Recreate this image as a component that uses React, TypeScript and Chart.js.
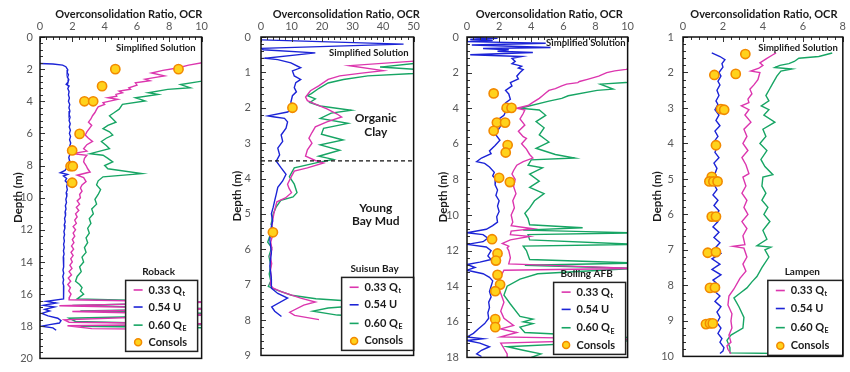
import React, { useEffect, useRef } from "react";
import { Chart, registerables } from "chart.js";

Chart.register(...registerables);

type Pt = [number, number]; // [OCR, depth (m)]

// ---------------- Roback ----------------
const robackQt: Pt[] = [
  [10.3, 1.55], [9.2, 1.75], [8.5, 1.93], [7.6, 2.08], [6.9, 2.24], [7.7, 2.42], [6.5, 2.62], [6.8, 2.72], [5.9, 2.85], [6.0, 3.0],
  [5.5, 3.16], [5.6, 3.25], [4.9, 3.37], [5.1, 3.47], [4.7, 3.57], [4.75, 3.68], [4.2, 3.78], [4.8, 3.88], [3.9, 4.08], [4.0, 4.2],
  [3.6, 4.35], [3.5, 4.5], [3.4, 4.7], [3.25, 4.9], [3.15, 5.1], [3.0, 5.3], [3.2, 5.5], [3.05, 5.7], [2.9, 5.9], [2.8, 6.1],
  [3.0, 6.3], [3.25, 6.5], [2.9, 6.7], [2.7, 6.95], [2.9, 7.1], [2.0, 7.26], [2.9, 7.36], [2.75, 7.55], [2.7, 7.77], [2.85, 8.0],
  [2.95, 8.2], [3.1, 8.4], [2.3, 8.6], [2.7, 8.75], [2.85, 9.0], [2.6, 9.2], [2.5, 9.4], [2.6, 9.6], [2.45, 9.8], [2.5, 10.0],
  [2.3, 10.2], [2.45, 10.4], [2.25, 10.6], [2.4, 10.8], [2.2, 11.0], [2.3, 11.2], [2.15, 11.4], [2.25, 11.6], [2.05, 11.8], [2.2, 12.0],
  [2.05, 12.2], [2.15, 12.4], [2.0, 12.6], [2.1, 12.8], [1.95, 13.0], [2.08, 13.2], [1.92, 13.4], [2.05, 13.6], [1.9, 13.8], [2.0, 14.0],
  [1.85, 14.2], [1.98, 14.4], [1.8, 14.6], [1.95, 14.8], [1.75, 15.0], [1.9, 15.2], [1.72, 15.4], [1.88, 15.6], [1.78, 15.8], [1.92, 16.0],
  [1.82, 16.2], [1.8, 16.35], [10.5, 16.5], [1.2, 16.72], [10.5, 16.92], [2.0, 17.08], [10.5, 17.28], [1.5, 17.6], [1.8, 17.75], [10.5, 17.85],
  [1.7, 17.97], [3.2, 18.15], [9.0, 18.2],
];
const robackU: Pt[] = [
  [0, 1.65], [0.8, 1.68], [1.4, 1.75], [1.6, 1.85], [1.72, 2.05], [1.68, 2.2], [1.76, 2.35], [1.7, 2.5], [1.78, 2.65], [1.74, 2.8],
  [1.62, 2.95], [1.8, 3.05], [1.72, 3.2], [1.8, 3.4], [1.76, 3.6], [1.82, 3.8], [1.76, 4.0], [1.84, 4.2], [1.79, 4.4], [1.85, 4.6],
  [1.8, 4.8], [1.86, 5.0], [1.8, 5.2], [1.87, 5.4], [1.81, 5.6], [1.88, 5.8], [1.82, 6.0], [1.89, 6.2], [1.83, 6.4], [1.9, 6.6],
  [1.84, 6.8], [1.88, 7.0], [1.76, 7.15], [1.85, 7.3], [1.78, 7.5], [1.83, 7.7], [1.75, 7.9], [1.68, 8.1], [1.55, 8.3], [1.25, 8.45],
  [1.7, 8.55], [1.45, 8.65], [1.65, 8.8], [1.56, 8.95], [1.7, 9.1], [1.65, 9.3], [1.69, 9.5], [1.62, 9.7], [1.66, 9.9], [1.6, 10.1],
  [1.64, 10.3], [1.57, 10.5], [1.61, 10.7], [1.55, 10.9], [1.58, 11.1], [1.52, 11.3], [1.56, 11.5], [1.5, 11.7], [1.54, 11.9], [1.48, 12.1],
  [1.52, 12.3], [1.47, 12.5], [1.51, 12.7], [1.46, 12.9], [1.5, 13.1], [1.45, 13.3], [1.49, 13.5], [1.44, 13.7], [1.48, 13.9], [1.43, 14.1],
  [1.48, 14.3], [1.42, 14.5], [1.47, 14.7], [1.41, 14.9], [1.46, 15.1], [1.42, 15.3], [1.47, 15.5], [1.43, 15.7], [1.48, 15.9], [1.44, 16.1],
  [1.48, 16.3], [0.4, 16.45], [1.0, 16.55], [0.2, 16.7], [0.9, 16.8], [0.3, 16.95], [0.6, 17.05], [0.1, 17.2], [0.5, 17.35], [1.1, 17.5],
  [1.3, 17.65], [1.2, 17.8], [0.6, 17.9], [0.1, 18.0], [0.8, 18.1], [1.0, 18.25],
];
const robackQe: Pt[] = [
  [10.3, 2.7], [8.7, 2.96], [9.3, 3.16], [7.9, 3.26], [6.7, 3.47], [7.3, 3.57], [5.9, 3.78], [6.5, 3.98], [5.1, 4.19], [4.9, 4.49],
  [4.6, 4.7], [4.3, 4.9], [4.5, 5.1], [4.7, 5.3], [4.2, 5.5], [3.9, 5.7], [4.3, 5.9], [4.5, 6.1], [4.1, 6.3], [3.8, 6.5],
  [4.1, 6.75], [4.3, 6.95], [3.1, 7.26], [3.9, 7.36], [4.2, 7.55], [4.5, 7.77], [4.0, 8.0], [4.2, 8.2], [6.3, 8.5], [3.9, 8.7],
  [3.6, 8.95], [3.5, 9.2], [3.75, 9.5], [3.6, 9.8], [3.4, 10.1], [3.5, 10.4], [3.2, 10.7], [3.3, 11.0], [3.05, 11.3], [3.15, 11.6],
  [2.95, 11.9], [3.05, 12.2], [2.85, 12.5], [2.95, 12.8], [2.75, 13.1], [2.85, 13.4], [2.6, 13.7], [2.7, 14.0], [2.45, 14.3], [2.55, 14.6],
  [2.3, 14.9], [2.2, 15.2], [2.45, 15.4], [2.6, 15.6], [2.5, 15.8], [2.7, 16.0], [2.3, 16.3], [10.5, 16.5], [2.0, 16.7], [10.5, 16.9],
  [2.5, 17.05], [10.5, 17.2], [10.5, 17.3], [1.8, 17.5], [2.2, 17.7], [10.5, 17.9], [2.5, 18.0], [10.5, 18.1],
];
const robackConsols: Pt[] = [
  [4.66, 2.0], [8.57, 2.0], [3.84, 3.06], [2.75, 4.0], [3.29, 4.0], [2.45, 6.03], [1.99, 7.06], [1.89, 8.04], [2.03, 8.04], [1.99, 9.07],
];

// ---------------- Suisun Bay ----------------
const suisunQt: Pt[] = [
  [52, 0.67], [29, 0.81], [40, 0.95], [33, 1.02], [25.8, 1.1], [22, 1.2], [18.9, 1.38], [16.2, 1.52], [14.6, 1.7], [15.2, 1.8],
  [17.8, 1.9], [21.6, 2.03], [24.8, 2.17], [26.4, 2.26], [21.6, 2.4], [17.8, 2.54], [16.7, 2.7], [15.7, 2.86], [16.7, 3.0], [15.2, 3.19],
  [14.6, 3.37], [17.8, 3.49], [20.5, 3.56], [15.2, 3.7], [10.9, 3.79], [9.8, 3.97], [8.7, 4.16], [9.2, 4.28], [10.0, 4.4], [8.0, 4.55],
  [5.2, 4.66], [4.6, 4.85], [4.2, 5.0], [3.8, 5.2], [3.5, 5.4], [3.8, 5.6], [3.2, 5.8], [3.6, 6.0], [3.0, 6.2], [3.5, 6.4],
  [3.1, 6.6], [3.4, 6.8], [3.0, 7.0], [4.0, 7.1], [6.6, 7.2], [13, 7.38], [17.8, 7.49], [14, 7.58], [9.4, 7.78], [11, 7.87],
  [19, 7.99],
];
const suisunU: Pt[] = [
  [0.3, 0.08], [46.7, 0.2], [0.2, 0.32], [0.7, 0.36], [17.8, 0.45], [1.3, 0.6], [5.5, 0.64], [9.8, 0.73], [13, 0.87], [10.3, 0.96],
  [10.9, 1.1], [13, 1.2], [11.4, 1.29], [10.9, 1.43], [11.6, 1.55], [10.3, 1.66], [9.8, 1.84], [10.3, 2.03], [8.7, 2.12], [2.3, 2.23],
  [4.5, 2.26], [7.7, 2.3], [8.7, 2.4], [8.2, 2.58], [6.6, 2.77], [7.1, 2.95], [5.5, 3.14], [6.1, 3.33], [5.0, 3.51], [6.6, 3.7],
  [8.2, 3.88], [7.1, 4.07], [5.5, 4.25], [5.0, 4.44], [4.5, 4.62], [4.0, 4.81], [3.4, 5.0], [3.8, 5.2], [3.4, 5.36], [2.9, 5.73],
  [3.4, 6.1], [2.9, 6.47], [3.4, 6.84], [3.4, 7.1], [5.5, 7.25], [8.7, 7.38], [3.5, 7.63], [4.5, 7.75], [6.7, 7.9],
];
const suisunQe: Pt[] = [
  [52, 0.73], [39, 0.85], [52, 0.92], [50, 1.03], [35, 1.1], [27, 1.2], [22, 1.3], [19, 1.45], [16.5, 1.6], [15.2, 1.66],
  [17.8, 1.75], [16, 1.85], [19.4, 1.95], [29.6, 2.07], [23, 2.15], [19.4, 2.3], [28.5, 2.44], [20.5, 2.58], [19.8, 2.75], [26.9, 2.91],
  [19.4, 3.05], [25.8, 3.2], [18.9, 3.37], [23.7, 3.46], [18.4, 3.55], [10.9, 3.7], [9.3, 3.95], [10.9, 4.16], [11.8, 4.4], [10.5, 4.52],
  [6.5, 4.62], [5.0, 4.8], [4.0, 5.0], [3.3, 5.3], [4.2, 5.45], [3.0, 5.6], [2.2, 5.8], [3.5, 5.95], [2.6, 6.2], [3.2, 6.45],
  [2.7, 6.7], [3.2, 6.9], [2.4, 7.05], [5, 7.15], [10, 7.3], [18, 7.4], [30, 7.47], [40, 7.54], [22, 7.66], [17, 7.75],
  [25, 7.86], [42, 7.92],
];
const suisunConsols: Pt[] = [[10.3, 2.0], [3.9, 5.52]];
const suisunClayBase = 3.5;

// ---------------- Bolling AFB ----------------
const bollingQt: Pt[] = [
  [10.3, 1.75], [9.9, 1.82], [9.2, 1.9], [8.7, 2.0], [8.2, 2.2], [7.5, 2.38], [7.0, 2.5], [6.9, 2.56], [6.2, 2.65], [5.9, 2.75],
  [5.5, 2.9], [5.1, 3.0], [4.9, 3.15], [4.7, 3.3], [4.5, 3.45], [4.1, 3.67], [3.8, 3.85], [3.1, 4.0], [3.6, 4.1], [3.5, 4.3],
  [3.3, 4.6], [3.6, 4.95], [3.2, 5.3], [3.5, 5.6], [3.7, 5.7], [3.4, 6.0], [3.7, 6.3], [3.9, 6.6], [4.1, 6.8], [3.5, 7.0],
  [3.1, 7.2], [2.9, 7.5], [2.8, 7.7], [3.0, 8.0], [2.9, 8.4], [3.05, 8.8], [2.85, 9.2], [2.95, 9.6], [2.75, 10.0], [2.85, 10.4],
  [2.75, 10.6], [4.1, 10.77], [2.75, 10.9], [2.7, 11.1], [3.9, 11.2], [2.7, 11.4], [2.2, 11.6], [2.6, 11.75], [2.5, 11.85], [2.6, 12.0],
  [2.7, 12.4], [2.6, 12.75], [10.5, 13.0], [2.3, 13.1], [2.1, 13.45], [1.9, 14.0], [2.1, 14.4], [2.3, 14.9], [2.1, 15.4], [2.3, 15.8],
  [2.9, 16.2], [2.1, 16.4], [3.1, 16.6], [2.1, 16.85], [10.5, 16.98], [2.1, 17.2], [2.3, 17.5], [2.5, 17.8], [2.5, 18.0],
];
const bollingU: Pt[] = [
  [0, 0.02], [1.9, 0.08], [0.2, 0.14], [1.6, 0.2], [0, 0.26], [4.9, 0.35], [0.3, 0.45], [5.2, 0.59], [1.0, 0.65], [2.6, 0.72],
  [1.9, 0.8], [4.1, 0.87], [0.2, 1.0], [3.4, 1.1], [2.8, 1.2], [3.0, 1.37], [2.8, 1.5], [3.4, 1.64], [3.2, 1.75], [3.5, 1.83],
  [3.3, 2.0], [3.1, 2.2], [3.2, 2.35], [2.7, 2.56], [2.8, 2.75], [2.4, 3.0], [2.6, 3.2], [2.7, 3.5], [2.4, 3.7], [2.5, 3.85],
  [2.2, 4.05], [2.4, 4.2], [2.3, 4.4], [2.0, 4.6], [1.8, 4.8], [2.1, 5.0], [1.95, 5.2], [1.8, 5.5], [2.05, 5.8], [1.75, 6.1],
  [1.4, 6.4], [1.5, 6.55], [0.9, 6.8], [0.6, 7.0], [1.1, 7.1], [1.4, 7.3], [1.7, 7.6], [1.6, 7.8], [1.8, 8.0], [1.75, 8.3],
  [1.9, 8.6], [1.8, 8.9], [2.0, 9.2], [1.9, 9.5], [2.0, 9.8], [1.85, 10.1], [1.9, 10.4], [1.6, 10.6], [1.2, 10.8], [0, 11.0],
  [1.0, 11.1], [1.3, 11.3], [1.0, 11.5], [0, 11.65], [1.2, 11.8], [1.5, 12.0], [1.3, 12.3], [1.5, 12.5], [0.8, 12.65], [0, 12.78],
  [0.5, 12.95], [0, 13.1], [1.0, 13.3], [1.4, 13.5], [1.6, 13.7], [1.5, 14.0], [1.4, 14.3], [1.5, 14.6], [1.35, 14.9], [1.4, 15.2],
  [1.3, 15.5], [1.35, 15.8], [1.1, 16.1], [0.7, 16.4], [0.4, 16.65], [0, 16.85], [1.0, 16.95], [0, 17.05], [0.8, 17.2], [1.4, 17.4],
  [0.9, 17.6], [0.6, 17.8], [0.9, 17.95],
];
const bollingQe: Pt[] = [
  [10.3, 2.5], [9.9, 2.56], [8.3, 2.65], [9.1, 2.93], [8.1, 3.0], [6.3, 3.3], [5.9, 3.45], [5.1, 3.6], [3.3, 4.0], [4.5, 4.1],
  [4.9, 4.4], [4.3, 4.75], [4.8, 5.1], [4.5, 5.5], [5.1, 5.9], [4.3, 6.25], [5.5, 6.6], [6.7, 6.8], [4.0, 6.9], [3.8, 7.2],
  [4.7, 7.35], [3.9, 7.7], [4.5, 8.1], [3.9, 8.45], [4.8, 8.8], [4.2, 9.2], [3.9, 9.6], [3.6, 9.9], [3.8, 10.2], [3.9, 10.55],
  [7.2, 10.72], [3.5, 10.85], [10.5, 11.0], [3.8, 11.1], [3.9, 11.4], [10.5, 11.65], [3.5, 11.75], [3.7, 12.0], [3.9, 12.5], [10.5, 12.7],
  [3.6, 12.82], [10.5, 13.0], [4.4, 13.3], [3.3, 13.6], [2.5, 14.0], [2.3, 14.5], [2.7, 15.0], [3.3, 15.7], [4.1, 15.85], [3.5, 16.0],
  [4.1, 16.1], [3.3, 16.3], [3.6, 16.6], [10.5, 16.9], [10.5, 17.05], [2.5, 17.4], [3.5, 17.6], [4.6, 17.8], [4.0, 18.0],
];
const bollingConsols: Pt[] = [
  [1.66, 3.17], [2.47, 3.98], [2.77, 3.98], [1.86, 4.81], [2.37, 4.81], [1.66, 5.27], [2.53, 6.07], [2.41, 6.49], [2.0, 7.91], [2.67, 8.15],
  [1.56, 11.36], [1.9, 12.16], [1.8, 12.56], [1.9, 13.36], [2.06, 13.91], [1.76, 14.28], [1.76, 15.85], [1.76, 16.3],
];

// ---------------- Lampen ----------------
const lampenQt: Pt[] = [
  [4.66, 1.45], [4.5, 1.5], [4.2, 1.6], [3.85, 1.73], [4.0, 1.8], [3.8, 1.88], [3.4, 1.96], [3.85, 2.0], [3.75, 2.2], [3.55, 2.35],
  [3.35, 2.47], [3.45, 2.6], [3.25, 2.75], [3.3, 2.85], [2.92, 2.94], [3.3, 3.05], [3.1, 3.2], [3.4, 3.4], [3.05, 3.6], [3.2, 3.8],
  [3.0, 4.0], [3.25, 4.2], [2.95, 4.4], [3.15, 4.6], [3.3, 4.85], [3.0, 4.95], [3.15, 5.2], [2.95, 5.4], [3.2, 5.6], [3.05, 5.8],
  [3.25, 6.0], [2.95, 6.2], [3.2, 6.4], [3.0, 6.6], [3.1, 6.85], [2.5, 6.9], [3.05, 6.95], [3.2, 7.2], [3.0, 7.4], [3.15, 7.6],
  [2.85, 7.8], [2.55, 8.1], [2.3, 8.3], [2.25, 8.55], [2.45, 8.8], [2.4, 9.0], [2.45, 9.2], [2.3, 9.4], [2.4, 9.6], [2.2, 9.7],
  [2.25, 9.8], [2.4, 9.92],
];
const lampenU: Pt[] = [
  [1.44, 1.45], [1.85, 1.55], [2.1, 1.64], [1.95, 1.75], [2.0, 1.85], [1.8, 2.0], [1.9, 2.1], [1.75, 2.25], [1.85, 2.35], [1.7, 2.5],
  [1.8, 2.65], [1.65, 2.8], [1.75, 2.9], [1.6, 3.05], [1.8, 3.2], [1.65, 3.35], [1.85, 3.5], [1.6, 3.65], [1.75, 3.8], [1.55, 3.95],
  [1.7, 4.1], [1.6, 4.25], [1.8, 4.4], [1.55, 4.55], [1.7, 4.7], [1.6, 4.85], [1.75, 5.0], [1.55, 5.15], [1.7, 5.3], [1.5, 5.45],
  [1.75, 5.6], [1.55, 5.75], [1.8, 5.9], [1.6, 6.05], [1.75, 6.2], [1.5, 6.35], [1.8, 6.5], [1.55, 6.65], [1.85, 6.8], [1.6, 6.95],
  [1.9, 7.1], [1.45, 7.25], [1.85, 7.4], [1.45, 7.55], [1.9, 7.7], [1.5, 7.85], [1.8, 8.0], [1.55, 8.15], [1.85, 8.3], [1.6, 8.45],
  [1.9, 8.6], [1.7, 8.75], [1.85, 8.9], [1.7, 9.05], [1.9, 9.2], [1.75, 9.35], [1.95, 9.5], [1.85, 9.6], [2.05, 9.75], [2.0, 9.85],
  [1.85, 9.92],
];
const lampenQe: Pt[] = [
  [7.47, 1.45], [6.8, 1.55], [5.8, 1.6], [5.57, 1.69], [5.3, 1.75], [4.85, 1.8], [4.6, 1.86], [5.45, 1.9], [4.9, 1.96], [4.7, 2.1],
  [4.5, 2.3], [4.3, 2.5], [4.15, 2.65], [4.3, 2.8], [3.92, 2.94], [4.3, 3.05], [4.05, 3.2], [4.6, 3.4], [4.0, 3.6], [4.15, 3.8],
  [3.85, 4.0], [4.2, 4.2], [3.9, 4.45], [4.1, 4.65], [4.5, 4.88], [4.0, 4.95], [3.95, 5.2], [4.15, 5.4], [3.95, 5.6], [4.25, 5.8],
  [4.05, 6.0], [4.35, 6.2], [4.0, 6.45], [4.2, 6.7], [3.7, 6.88], [4.4, 6.92], [4.1, 7.0], [4.3, 7.2], [3.95, 7.5], [3.7, 7.75],
  [3.45, 7.9], [3.2, 8.07], [2.9, 8.2], [2.55, 8.35], [2.8, 8.6], [3.05, 8.9], [3.0, 9.2], [2.4, 9.4], [2.2, 9.55], [2.35, 9.75],
  [2.35, 9.9], [4.83, 9.92],
];
const lampenConsols: Pt[] = [
  [3.12, 1.48], [1.57, 2.07], [2.64, 2.04], [1.9, 3.03], [2.06, 3.05], [1.65, 4.05], [1.44, 4.94], [1.32, 5.07], [1.52, 5.07], [1.73, 5.07],
  [1.44, 6.06], [1.65, 6.06], [1.24, 7.08], [1.65, 7.06], [1.35, 8.07], [1.6, 8.06], [1.15, 9.09], [1.35, 9.07], [1.49, 9.07],
];

// ---------------- labels ----------------
const xAxisTitle = "Overconsolidation Ratio, OCR";
const yAxisTitle = "Depth (m)";
const methodNote = "Simplified Solution";
const legendLabels: [string, string][] = [["0.33 Q", "t"], ["0.54 U", ""], ["0.60 Q", "E"], ["Consols", ""]];

const COL = { qt: "#DC36AE", u: "#1C24D6", qe: "#17A564", fill: "#FFD21C", edge: "#F28A00", ink: "#1a1a1a", tick: "#595959" };
const FONT = "Lato, 'Liberation Sans', sans-serif";

interface Panel {
  site: string; xMax: number; xStep: number; yMin: number; yMax: number; yStep: number;
  qt: Pt[]; u: Pt[]; qe: Pt[]; consols: Pt[]; dash?: number;
  left: number; width: number; yAxisW: number; padR: number; padB: number; yTickPad: number; yTitlePad: number; titleDx: number;
  legend: { w: number; h: number; insetR: number; insetB: number };
  note: { insetR: number; y: number };
  soil?: { lines: string[]; x: number; y: number }[];
}

const panels: Panel[] = [
  { site: "Roback", xMax: 10, xStep: 2, yMin: 0, yMax: 20, yStep: 2, qt: robackQt, u: robackU, qe: robackQe, consols: robackConsols,
    left: 0, width: 212, yAxisW: 40, padR: 6, padB: 10, yTickPad: 7, yTitlePad: 11, titleDx: 8,
    legend: { w: 72, h: 71, insetR: 4, insetB: 7 }, note: { insetR: 6, y: 11 } },
  { site: "Suisun Bay", xMax: 50, xStep: 10, yMin: 0, yMax: 9, yStep: 1, qt: suisunQt, u: suisunU, qe: suisunQe, consols: suisunConsols, dash: suisunClayBase,
    left: 212, width: 212, yAxisW: 49, padR: 7, padB: 11, yTickPad: 10, yTitlePad: 18, titleDx: 9,
    legend: { w: 72, h: 73, insetR: 0, insetB: 5 }, note: { insetR: 5, y: 16 },
    soil: [{ lines: ["Organic", "Clay"], x: 37.6, y: 2.3 }, { lines: ["Young", "Bay Mud"], x: 37.6, y: 4.83 }] },
  { site: "Bolling AFB", xMax: 10, xStep: 2, yMin: 0, yMax: 18, yStep: 2, qt: bollingQt, u: bollingU, qe: bollingQe, consols: bollingConsols,
    left: 424, width: 214, yAxisW: 43, padR: 6, padB: 10, yTickPad: 8, yTitlePad: 12, titleDx: 2,
    legend: { w: 72, h: 72, insetR: 2, insetB: 3 }, note: { insetR: 2, y: 6 } },
  { site: "Lampen", xMax: 8, xStep: 2, yMin: 1, yMax: 10, yStep: 1, qt: lampenQt, u: lampenU, qe: lampenQe, consols: lampenConsols,
    left: 638, width: 212, yAxisW: 45, padR: 6, padB: 11, yTickPad: 9, yTitlePad: 12, titleDx: 1,
    legend: { w: 75, h: 75, insetR: 0, insetB: 1 }, note: { insetR: 5, y: 11 } },
];

const toXY = (a: Pt[]) => a.map(([x, y]) => ({ x, y }));

function drawLabel(ctx: CanvasRenderingContext2D, x: number, y: number, main: string, sub: string, size: number) {
  ctx.font = `bold ${size}px ${FONT}`;
  ctx.fillText(main, x, y);
  if (sub) {
    const w = ctx.measureText(main).width;
    ctx.font = `bold ${Math.round(size * 0.62)}px ${FONT}`;
    ctx.fillText(sub, x + w + 0.5, y + size * 0.32);
  }
}

const decor = {
  id: "decor",
  afterDatasetsDraw(chart: any, _args: any, opts: any) {
    const p: Panel = opts.panel;
    const { ctx, chartArea: a, scales } = chart;
    const xs = scales.x, ys = scales.y;
    ctx.save();
    // inner tick marks
    ctx.strokeStyle = "#333";
    ctx.lineWidth = 1;
    const nx = Math.round(p.xMax / p.xStep) * 5;
    for (let i = 0; i <= nx; i++) {
      const px = Math.round(xs.getPixelForValue((i * p.xStep) / 5)) + 0.5;
      const len = i % 5 === 0 ? 5 : 3;
      ctx.beginPath(); ctx.moveTo(px, a.top); ctx.lineTo(px, a.top + len); ctx.stroke();
    }
    const ny = Math.round((p.yMax - p.yMin) / p.yStep) * 5;
    for (let i = 0; i <= ny; i++) {
      const py = Math.round(ys.getPixelForValue(p.yMin + (i * p.yStep) / 5)) + 0.5;
      const len = i % 5 === 0 ? 5 : 3;
      ctx.beginPath(); ctx.moveTo(a.left, py); ctx.lineTo(a.left + len, py); ctx.stroke();
    }
    // axis title (top)
    ctx.fillStyle = COL.ink;
    ctx.textAlign = "center";
    ctx.textBaseline = "middle";
    ctx.font = `bold 11px ${FONT}`;
    ctx.fillText(xAxisTitle, (a.left + a.right) / 2 + p.titleDx, 14);
    // soil notes
    (p.soil || []).forEach((s) => {
      const cx = xs.getPixelForValue(s.x);
      const cy = ys.getPixelForValue(s.y);
      ctx.font = `bold 12px ${FONT}`;
      s.lines.forEach((t, k) => ctx.fillText(t, cx, cy + k * 13.5));
    });
    // method note
    ctx.textAlign = "right";
    ctx.font = `bold 9.5px ${FONT}`;
    ctx.fillText(methodNote, a.right - p.note.insetR, a.top + p.note.y);
    // legend box
    const L = p.legend;
    const bx = a.right - L.insetR - L.w;
    const by = a.bottom - L.insetB - L.h;
    ctx.fillStyle = "#fff";
    ctx.fillRect(bx, by, L.w, L.h);
    ctx.strokeStyle = "#222";
    ctx.lineWidth = 1.5;
    ctx.strokeRect(bx, by, L.w, L.h);
    ctx.fillStyle = COL.ink;
    ctx.textAlign = "center";
    ctx.font = `bold 10px ${FONT}`;
    ctx.fillText(p.site, bx + L.w / 2 - 3, by - 9);
    const rows = [0.135, 0.375, 0.63, 0.87];
    const colors = [COL.qt, COL.u, COL.qe];
    ctx.textAlign = "left";
    legendLabels.forEach((lab, k) => {
      const ry = by + L.h * rows[k];
      if (k < 3) {
        ctx.strokeStyle = colors[k];
        ctx.lineWidth = 1.6;
        ctx.beginPath(); ctx.moveTo(bx + 8, ry); ctx.lineTo(bx + 17, ry); ctx.stroke();
      } else {
        ctx.beginPath();
        ctx.arc(bx + 12.5, ry, 3.5, 0, Math.PI * 2);
        ctx.fillStyle = COL.fill; ctx.fill();
        ctx.strokeStyle = COL.edge; ctx.lineWidth = 1.5; ctx.stroke();
      }
      ctx.fillStyle = COL.ink;
      drawLabel(ctx, bx + 23, ry, lab[0], lab[1], 11);
    });
    // plot frame
    ctx.strokeStyle = "#111";
    ctx.lineWidth = 1.5;
    ctx.strokeRect(a.left, a.top, a.right - a.left, a.bottom - a.top);
    ctx.restore();
  },
};

function PanelChart({ p }: { p: Panel }) {
  const ref = useRef<HTMLCanvasElement>(null);
  useEffect(() => {
    if (!ref.current) return;
    const line = (data: Pt[], color: string, order: number) => ({
      data: toXY(data), borderColor: color, backgroundColor: color, borderWidth: 1.4,
      pointRadius: 0, showLine: true, fill: false, tension: 0, order,
    });
    const datasets: any[] = [
      { data: toXY(p.consols), showLine: false, pointRadius: 4.6, pointBackgroundColor: COL.fill,
        pointBorderColor: COL.edge, pointBorderWidth: 1.6, order: 0 },
      line(p.u, COL.u, 2),
      line(p.qt, COL.qt, 3),
      line(p.qe, COL.qe, 4),
    ];
    if (p.dash !== undefined) {
      datasets.push({ data: [{ x: 0, y: p.dash }, { x: p.xMax, y: p.dash }], borderColor: "#111", borderWidth: 1.3,
        borderDash: [4, 3], pointRadius: 0, showLine: true, order: 1 });
    }
    const tickFont = { family: FONT, size: 11 };
    const chart = new Chart(ref.current, {
      type: "line",
      data: { datasets },
      plugins: [decor as any],
      options: {
        responsive: false,
        animation: false,
        devicePixelRatio: 1,
        layout: { padding: { left: 0, right: p.padR, top: 0, bottom: p.padB } },
        plugins: { legend: { display: false }, tooltip: { enabled: false }, decor: { panel: p } } as any,
        scales: {
          x: {
            type: "linear", position: "top", min: 0, max: p.xMax,
            ticks: { stepSize: p.xStep, color: COL.tick, font: tickFont, padding: 4 },
            grid: { display: false, drawTicks: false }, border: { display: false },
            title: { display: false },
            afterFit: (s: any) => { s.height = 37; },
          },
          y: {
            type: "linear", position: "left", reverse: true, min: p.yMin, max: p.yMax,
            ticks: { stepSize: p.yStep, color: COL.tick, font: tickFont, padding: p.yTickPad },
            grid: { display: false, drawTicks: false }, border: { display: false },
            title: { display: true, text: yAxisTitle, color: COL.ink, font: { family: FONT, size: 11.5, weight: "bold" }, padding: { top: p.yTitlePad, bottom: 0 } },
            afterFit: (s: any) => { s.width = p.yAxisW; },
          },
        },
      } as any,
    });
    return () => chart.destroy();
  }, [p]);
  return (
    <canvas ref={ref} width={p.width} height={372}
      style={{ position: "absolute", left: p.left, top: 0, width: p.width, height: 372 }} />
  );
}

export default function App() {
  return (
    <div style={{ position: "absolute", left: 0, top: 0, width: 850, height: 372, background: "#fff", overflow: "hidden" }}>
      {panels.map((p) => <PanelChart key={p.site} p={p} />)}
    </div>
  );
}
